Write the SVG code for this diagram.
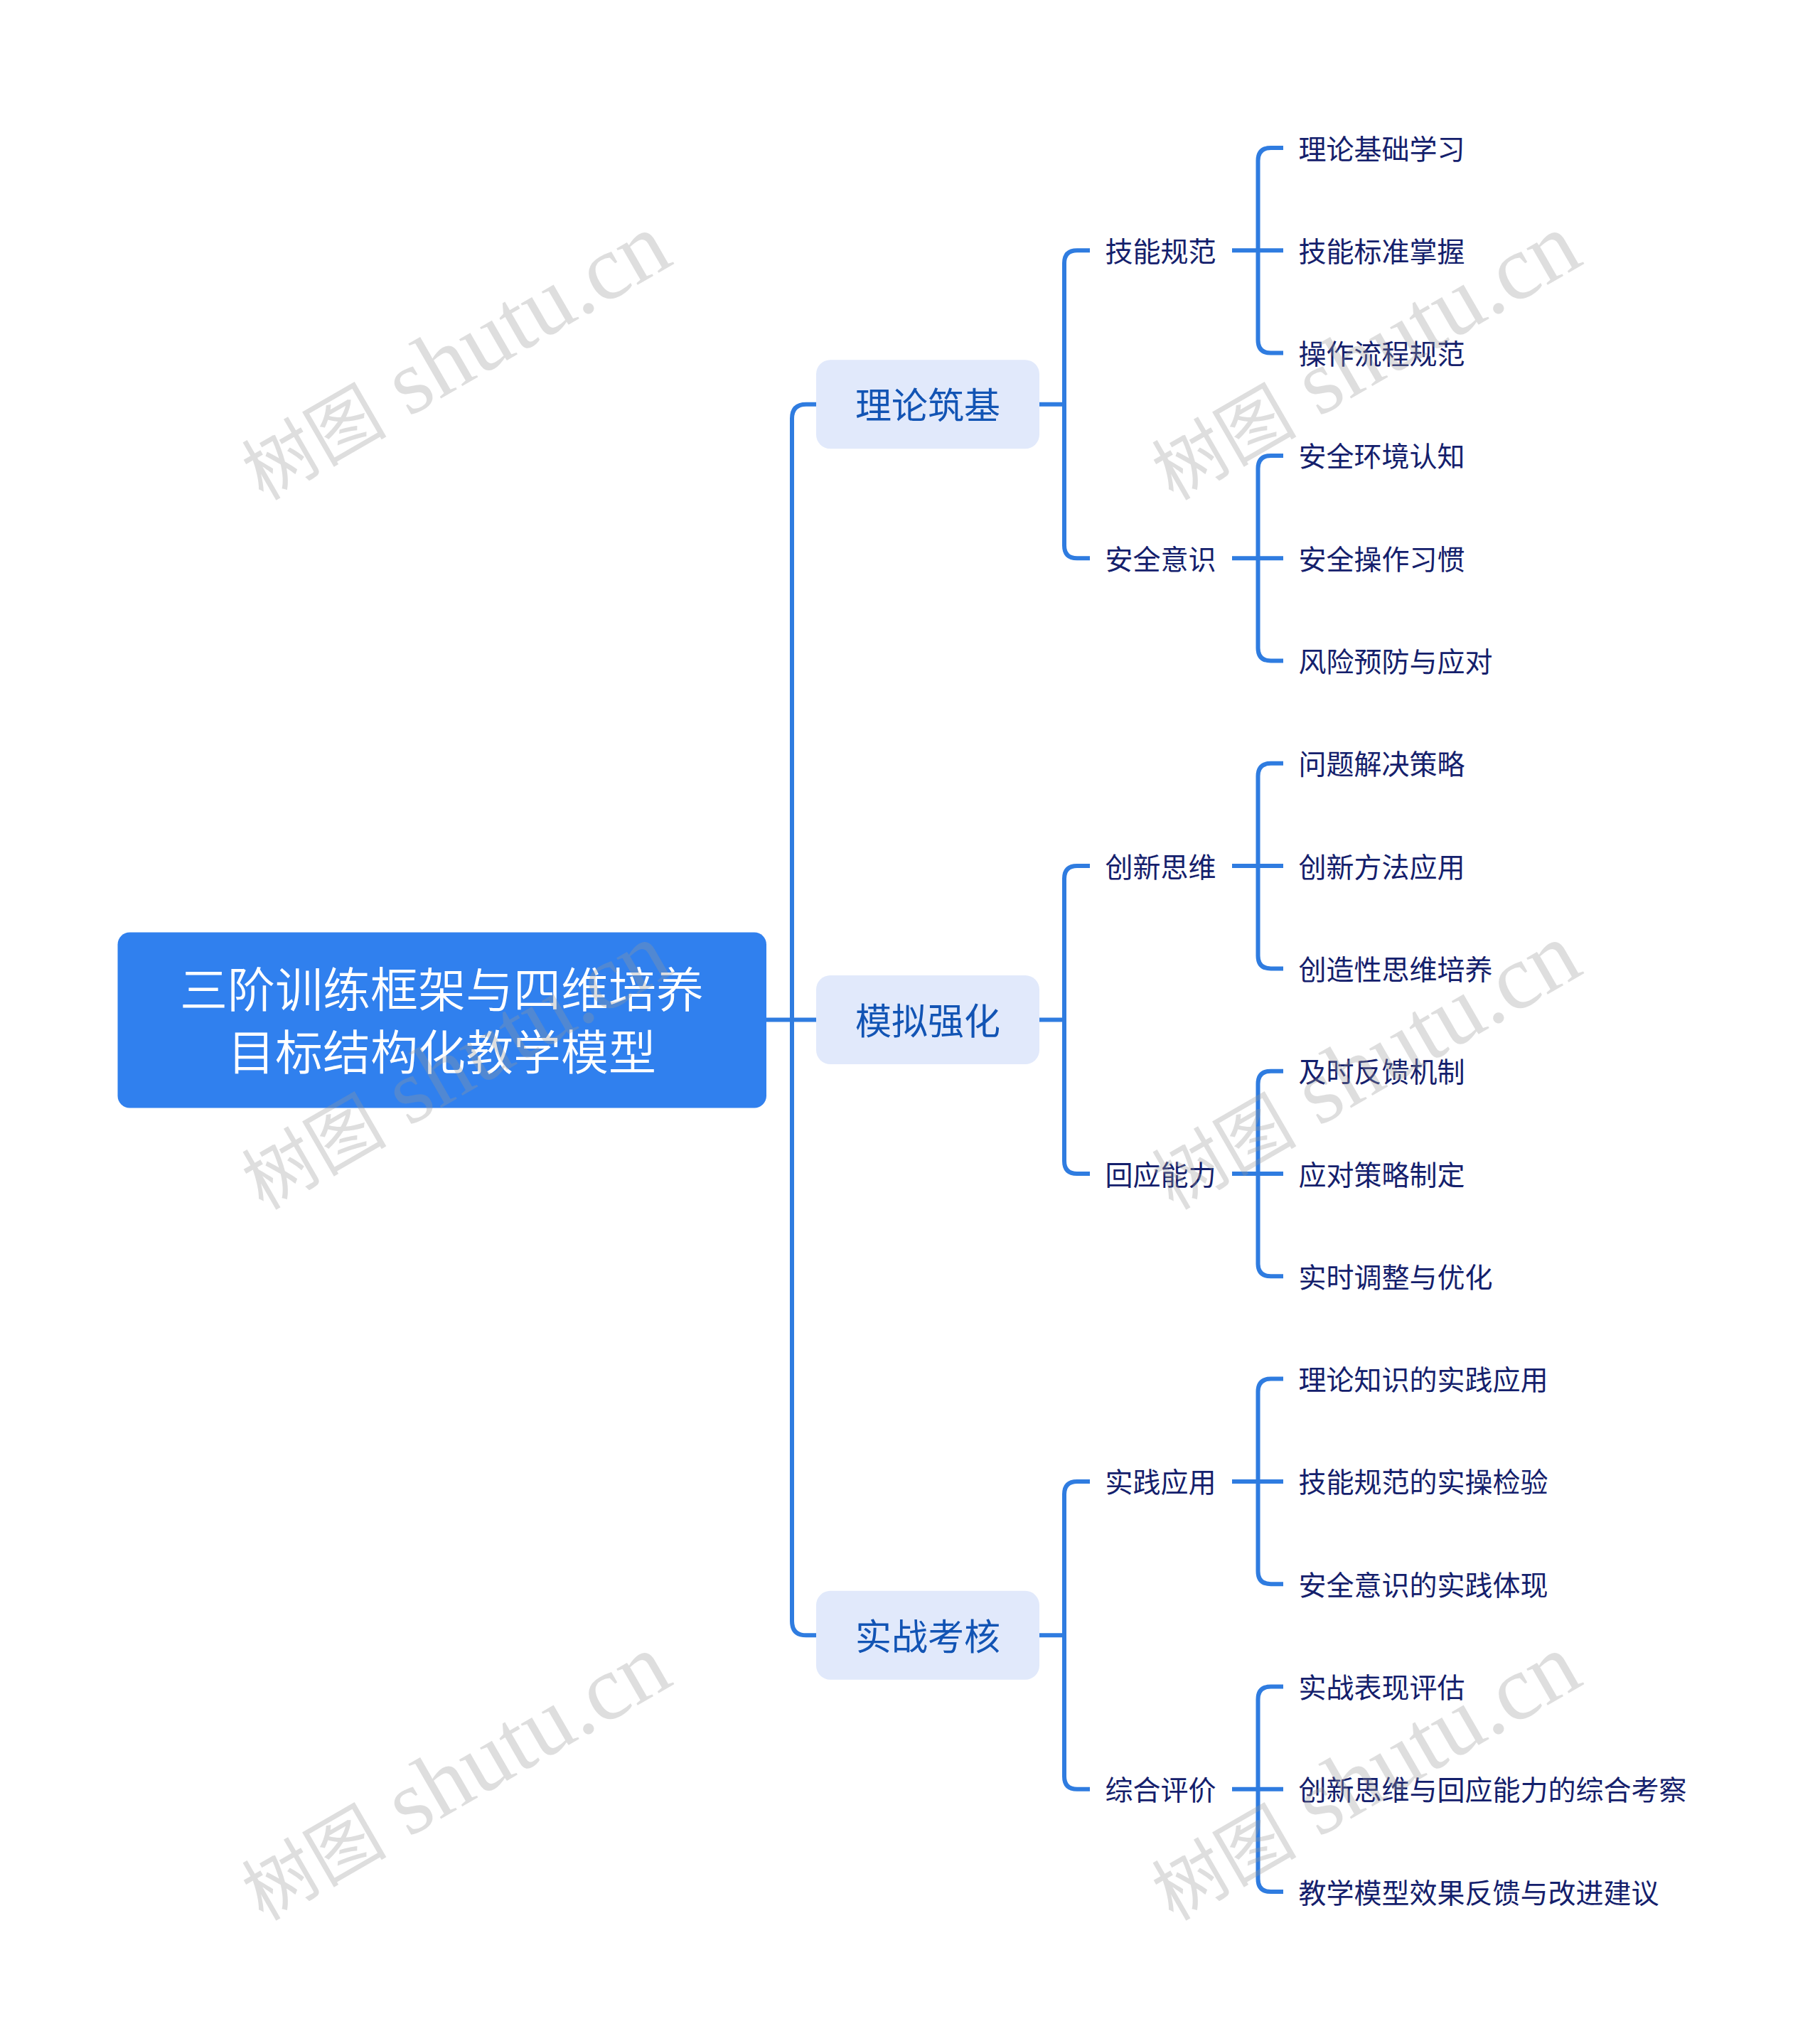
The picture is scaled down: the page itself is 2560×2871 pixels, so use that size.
<svg xmlns="http://www.w3.org/2000/svg" width="2560" height="2871" viewBox="0 0 2560 2871">
<style>
text{font-family:"Noto Sans CJK SC","Noto Sans",sans-serif;dominant-baseline:central}
.root-t{font-size:67px;fill:#fff;text-anchor:middle;font-weight:350}
.l1-t{font-size:51px;fill:#1254b4;text-anchor:middle}
.l2-t,.leaf-t{font-size:39px;fill:#14206c}
.root-b{fill:#3080ee}
.l1-b{fill:#e1e9fb}
#connectors path{fill:none;stroke:#2f7ce0;stroke-width:6}
.wm{font-family:"Liberation Serif","Noto Sans CJK SC",serif;font-size:129px;fill:#999;fill-opacity:.32;dominant-baseline:auto}
.wm .c{font-family:"Noto Sans CJK SC",serif;font-size:102px}
</style>
<rect width="2560" height="2871" fill="#fff"/>
<g id="connectors">
<path d="M1078 1434.5H1149"/>
<path d="M1149 568.75H1134Q1114 568.75 1114 588.75V2280.35Q1114 2300.35 1134 2300.35H1149"/>
<path d="M1462 568.75H1497M1533 352.3H1515Q1497 352.3 1497 370.3V767.2Q1497 785.2 1515 785.2H1533"/>
<path d="M1462 1434.5H1497M1533 1218.1H1515Q1497 1218.1 1497 1236.1V1633Q1497 1651 1515 1651H1533"/>
<path d="M1462 2300.35H1497M1533 2083.9H1515Q1497 2083.9 1497 2101.9V2498.8Q1497 2516.8 1515 2516.8H1533"/>
<path d="M1733 352.3H1805M1805 208H1787.5Q1769.5 208 1769.5 226V478.6Q1769.5 496.6 1787.5 496.6H1805"/>
<path d="M1733 785.2H1805M1805 640.9H1787.5Q1769.5 640.9 1769.5 658.9V911.5Q1769.5 929.5 1787.5 929.5H1805"/>
<path d="M1733 1218.1H1805M1805 1073.8H1787.5Q1769.5 1073.8 1769.5 1091.8V1344.4Q1769.5 1362.4 1787.5 1362.4H1805"/>
<path d="M1733 1651H1805M1805 1506.7H1787.5Q1769.5 1506.7 1769.5 1524.7V1777.3Q1769.5 1795.3 1787.5 1795.3H1805"/>
<path d="M1733 2083.9H1805M1805 1939.6H1787.5Q1769.5 1939.6 1769.5 1957.6V2210.2Q1769.5 2228.2 1787.5 2228.2H1805"/>
<path d="M1733 2516.8H1805M1805 2372.5H1787.5Q1769.5 2372.5 1769.5 2390.5V2643.1Q1769.5 2661.1 1787.5 2661.1H1805"/>
</g>
<g id="root"><rect class="root-b" x="165.5" y="1311.5" width="912.5" height="247" rx="17"/>
<text class="root-t" x="621.5" y="1387">三阶训练框架与四维培养</text><text class="root-t" x="621.5" y="1475">目标结构化教学模型</text></g>
<g id="n1"><rect class="l1-b" x="1148" y="506.25" width="314" height="125" rx="20"/><text class="l1-t" x="1305" y="567">理论筑基</text></g>
<g id="n2"><rect class="l1-b" x="1148" y="1372" width="314" height="125" rx="20"/><text class="l1-t" x="1305" y="1433">模拟强化</text></g>
<g id="n3"><rect class="l1-b" x="1148" y="2237.85" width="314" height="125" rx="20"/><text class="l1-t" x="1305" y="2299">实战考核</text></g>
<g id="n1-1"><text class="l2-t" x="1554.5" y="350.8">技能规范</text></g>
<g id="n1-2"><text class="l2-t" x="1554.5" y="783.7">安全意识</text></g>
<g id="n2-1"><text class="l2-t" x="1554.5" y="1216.6">创新思维</text></g>
<g id="n2-2"><text class="l2-t" x="1554.5" y="1649.5">回应能力</text></g>
<g id="n3-1"><text class="l2-t" x="1554.5" y="2082.4">实践应用</text></g>
<g id="n3-2"><text class="l2-t" x="1554.5" y="2515.3">综合评价</text></g>
<g id="leaf1"><text class="leaf-t" x="1826.5" y="206.5">理论基础学习</text></g>
<g id="leaf2"><text class="leaf-t" x="1826.5" y="350.8">技能标准掌握</text></g>
<g id="leaf3"><text class="leaf-t" x="1826.5" y="495.1">操作流程规范</text></g>
<g id="leaf4"><text class="leaf-t" x="1826.5" y="639.4">安全环境认知</text></g>
<g id="leaf5"><text class="leaf-t" x="1826.5" y="783.7">安全操作习惯</text></g>
<g id="leaf6"><text class="leaf-t" x="1826.5" y="928">风险预防与应对</text></g>
<g id="leaf7"><text class="leaf-t" x="1826.5" y="1072.3">问题解决策略</text></g>
<g id="leaf8"><text class="leaf-t" x="1826.5" y="1216.6">创新方法应用</text></g>
<g id="leaf9"><text class="leaf-t" x="1826.5" y="1360.9">创造性思维培养</text></g>
<g id="leaf10"><text class="leaf-t" x="1826.5" y="1505.2">及时反馈机制</text></g>
<g id="leaf11"><text class="leaf-t" x="1826.5" y="1649.5">应对策略制定</text></g>
<g id="leaf12"><text class="leaf-t" x="1826.5" y="1793.8">实时调整与优化</text></g>
<g id="leaf13"><text class="leaf-t" x="1826.5" y="1938.1">理论知识的实践应用</text></g>
<g id="leaf14"><text class="leaf-t" x="1826.5" y="2082.4">技能规范的实操检验</text></g>
<g id="leaf15"><text class="leaf-t" x="1826.5" y="2226.7">安全意识的实践体现</text></g>
<g id="leaf16"><text class="leaf-t" x="1826.5" y="2371">实战表现评估</text></g>
<g id="leaf17"><text class="leaf-t" x="1826.5" y="2515.3">创新思维与回应能力的综合考察</text></g>
<g id="leaf18"><text class="leaf-t" x="1826.5" y="2659.6">教学模型效果反馈与改进建议</text></g>
<g id="watermarks">
<text class="wm" transform="translate(370 705) rotate(-30)"><tspan class="c">树图</tspan> shutu.cn</text>
<text class="wm" transform="translate(1650 705) rotate(-30)"><tspan class="c">树图</tspan> shutu.cn</text>
<text class="wm" transform="translate(370 1703) rotate(-30)"><tspan class="c">树图</tspan> shutu.cn</text>
<text class="wm" transform="translate(1650 1703) rotate(-30)"><tspan class="c">树图</tspan> shutu.cn</text>
<text class="wm" transform="translate(370 2703) rotate(-30)"><tspan class="c">树图</tspan> shutu.cn</text>
<text class="wm" transform="translate(1650 2703) rotate(-30)"><tspan class="c">树图</tspan> shutu.cn</text>
</g>
</svg>
